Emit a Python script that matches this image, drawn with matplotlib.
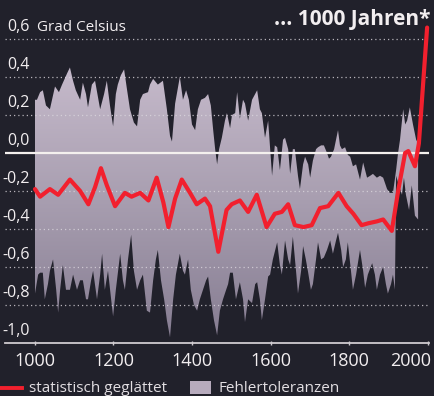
import numpy as np
import matplotlib
matplotlib.use("Agg")
import matplotlib.pyplot as plt
import matplotlib.transforms as mtransforms
from matplotlib.colors import LinearSegmentedColormap
from matplotlib.lines import Line2D
from matplotlib.patches import Rectangle

# upper edge of the error band (year, deg C)
up_years = [1000, 1005, 1013, 1020, 1028, 1038, 1051, 1061, 1069, 1082, 1089, 1097, 1104, 1115,
            1122, 1130, 1135, 1145, 1153, 1166, 1176, 1183, 1191, 1199, 1206, 1211, 1219, 1227,
            1234, 1242, 1252, 1260, 1268, 1275, 1288, 1293, 1301, 1313, 1326, 1336, 1344, 1349,
            1357, 1369, 1377, 1385, 1392, 1400, 1408, 1415, 1423, 1433, 1441, 1448, 1454, 1459,
            1464, 1469, 1476, 1484, 1489, 1497, 1502, 1510, 1515, 1522, 1530, 1535, 1543, 1553,
            1566, 1573, 1578, 1586, 1594, 1604, 1611, 1617, 1624, 1632, 1637, 1645, 1650, 1657,
            1662, 1670, 1675, 1683, 1688, 1696, 1701, 1708, 1716, 1721, 1729, 1736, 1744, 1749,
            1754, 1762, 1769, 1772, 1777, 1782, 1790, 1797, 1803, 1810, 1818, 1828, 1836, 1846,
            1854, 1861, 1871, 1879, 1887, 1897, 1904, 1912, 1920, 1925, 1930, 1938, 1943, 1948,
            1955, 1963, 1971, 1976]
up_vals = [0.28, 0.28, 0.32, 0.33, 0.25, 0.23, 0.35, 0.32, 0.36, 0.42, 0.45, 0.38, 0.33, 0.28,
           0.37, 0.31, 0.24, 0.36, 0.38, 0.23, 0.31, 0.38, 0.25, 0.14, 0.31, 0.36, 0.41, 0.44,
           0.34, 0.23, 0.16, 0.14, 0.28, 0.31, 0.32, 0.36, 0.39, 0.36, 0.38, 0.23, 0.09, 0.06,
           0.26, 0.40, 0.28, 0.33, 0.28, 0.15, 0.12, 0.23, 0.28, 0.29, 0.31, 0.25, 0.12, 0.02,
           -0.06, 0.02, 0.08, 0.17, 0.21, 0.13, 0.20, 0.21, 0.32, 0.18, 0.28, 0.26, 0.17, 0.28,
           0.33, 0.23, 0.21, 0.08, 0.17, -0.12, 0.04, 0.03, -0.09, 0.07, 0.08, 0.02, -0.11, 0.02,
           0.02, -0.12, -0.19, -0.06, -0.02, -0.06, -0.13, -0.04, 0.02, 0.03, 0.04, 0.04, 0.00, -0.03,
           -0.02, 0.02, 0.09, 0.12, 0.04, 0.02, 0.03, -0.01, -0.02, -0.07, -0.06, -0.14, -0.05, -0.13,
           -0.12, -0.11, -0.13, -0.12, -0.13, -0.19, -0.21, -0.21, -0.09, 0.00, 0.07, 0.23, 0.15, 0.17,
           0.24, 0.15, 0.07, 0.05]

# lower edge of the error band
low_years = [1000, 1008, 1013, 1020, 1025, 1033, 1038, 1046, 1054, 1059, 1064, 1071, 1079, 1089,
             1097, 1107, 1115, 1122, 1130, 1135, 1143, 1148, 1158, 1166, 1171, 1178, 1186, 1194,
             1199, 1206, 1217, 1224, 1229, 1237, 1245, 1252, 1260, 1268, 1275, 1285, 1293, 1301,
             1308, 1313, 1321, 1329, 1336, 1344, 1352, 1359, 1369, 1377, 1382, 1390, 1397, 1405,
             1413, 1420, 1428, 1436, 1441, 1448, 1456, 1464, 1471, 1479, 1487, 1492, 1497, 1504,
             1512, 1522, 1530, 1535, 1543, 1553, 1561, 1566, 1573, 1578, 1586, 1594, 1599, 1606,
             1617, 1624, 1629, 1637, 1645, 1650, 1657, 1665, 1670, 1678, 1683, 1690, 1696, 1703,
             1708, 1716, 1721, 1729, 1736, 1744, 1752, 1759, 1767, 1772, 1780, 1785, 1792, 1797,
             1805, 1810, 1818, 1828, 1836, 1841, 1848, 1859, 1866, 1871, 1879, 1887, 1894, 1899,
             1907, 1912, 1917, 1920, 1927, 1935, 1940, 1945, 1953, 1960, 1968, 1976]
low_vals = [-0.74, -0.64, -0.63, -0.63, -0.77, -0.69, -0.62, -0.56, -0.72, -0.84, -0.72, -0.59, -0.72, -0.72,
            -0.64, -0.72, -0.67, -0.67, -0.77, -0.77, -0.67, -0.62, -0.77, -0.64, -0.53, -0.72, -0.62, -0.77,
            -0.86, -0.72, -0.53, -0.67, -0.72, -0.56, -0.43, -0.62, -0.72, -0.67, -0.64, -0.83, -0.84, -0.67,
            -0.56, -0.51, -0.67, -0.77, -0.88, -0.97, -0.77, -0.64, -0.53, -0.62, -0.64, -0.56, -0.72, -0.80,
            -0.83, -0.77, -0.72, -0.67, -0.65, -0.77, -0.88, -0.96, -0.83, -0.77, -0.72, -0.69, -0.63, -0.63,
            -0.77, -0.68, -0.77, -0.89, -0.77, -0.79, -0.69, -0.68, -0.77, -0.88, -0.77, -0.65, -0.64, -0.56,
            -0.47, -0.59, -0.64, -0.46, -0.56, -0.59, -0.44, -0.62, -0.74, -0.62, -0.49, -0.56, -0.63, -0.72,
            -0.69, -0.56, -0.47, -0.56, -0.55, -0.51, -0.46, -0.53, -0.46, -0.42, -0.51, -0.60, -0.56, -0.47,
            -0.62, -0.72, -0.64, -0.51, -0.62, -0.71, -0.64, -0.58, -0.64, -0.72, -0.64, -0.60, -0.69, -0.74,
            -0.69, -0.64, -0.72, -0.12, -0.17, -0.22, -0.13, -0.22, -0.30, -0.17, -0.33, -0.35]

# smoothed series (red)
smooth_years = [1000, 1013, 1038, 1059, 1089, 1115, 1136, 1153, 1168, 1183, 1204, 1229, 1246, 1268,
                1289, 1310, 1327, 1340, 1357, 1374, 1395, 1412, 1433, 1446, 1467, 1488, 1501, 1522,
                1543, 1565, 1590, 1611, 1629, 1645, 1662, 1684, 1705, 1726, 1747, 1773, 1794, 1811,
                1832, 1849, 1871, 1887, 1909, 1926, 1943, 1951, 1968, 1978, 1999]
smooth_vals = [-0.19, -0.23, -0.19, -0.22, -0.14, -0.20, -0.27, -0.18, -0.08, -0.17, -0.28, -0.21, -0.23, -0.21,
               -0.25, -0.13, -0.26, -0.39, -0.24, -0.14, -0.21, -0.27, -0.24, -0.28, -0.52, -0.30, -0.27, -0.25,
               -0.31, -0.22, -0.39, -0.32, -0.31, -0.27, -0.38, -0.39, -0.38, -0.29, -0.28, -0.21, -0.28, -0.32,
               -0.38, -0.37, -0.36, -0.35, -0.41, -0.19, 0.00, 0.01, -0.07, 0.05, 0.66]

grid_vals = [0.6, 0.4, 0.2, -0.2, -0.4, -0.6, -0.8]
ylabel_vals = [0.6, 0.4, 0.2, 0.0, -0.2, -0.4, -0.6, -0.8, -1.0]
ylabel_text = ["0,6", "0,4", "0,2", "0,0", "-0,2", "-0,4", "-0,6", "-0,8", "-1,0"]
xtick_years = [1000, 1200, 1400, 1600, 1800, 2000]

BG = "#21212b"
RED = "#f2202e"
TXT = "#f2eef0"
plt.rcParams['font.family'] = ['Open Sans', 'DejaVu Sans']

fig = plt.figure(figsize=(4.34, 3.96), dpi=100)
fig.patch.set_facecolor(BG)
ax = fig.add_axes([5 / 434, 53 / 396, 424 / 434, 343 / 396])
ax.set_facecolor(BG)

# error band with a vertical gradient, clipped to the band outline
band_x = np.concatenate([up_years, low_years[::-1]])
band_y = np.concatenate([up_vals, low_vals[::-1]])
poly = ax.fill(band_x, band_y, facecolor="none", edgecolor="none")[0]
cmap = LinearSegmentedColormap.from_list("band", ["#857c91", "#a89eb0", "#c8bccd"])
grad = np.linspace(1, 0, 256).reshape(-1, 1)
im = ax.imshow(grad, extent=[990, 1990, -1.0, 0.5], aspect="auto", cmap=cmap, zorder=1)
im.set_clip_path(poly)

ax.set_xlim(923.6, 2003.8)
ax.set_ylim(-1.0, 0.805)
ax.axis("off")

for v in grid_vals:
    ax.axhline(v, color="#dcd8de", lw=0.9, ls=(0, (1, 2.4)), alpha=0.8, zorder=3)
ax.axhline(0.0, color="#f4f0ee", lw=1.6, zorder=4)
ax.axhline(-1.0, color="#cfcbd0", lw=1.3, zorder=4, clip_on=False)
ax.vlines(xtick_years, -1.013, -0.99, color="#cfcbd0", lw=1.0, clip_on=False, zorder=4)

ax.plot(smooth_years, smooth_vals, color=RED, lw=3.0, solid_joinstyle="round",
        solid_capstyle="round", zorder=5, clip_on=False)

trans = mtransforms.blended_transform_factory(ax.transAxes, ax.transData)
for v, t in zip(ylabel_vals, ylabel_text):
    ax.text(25 / 424, v + 0.02, t, transform=trans, ha="right", va="bottom",
            color=TXT, fontsize=11.5)
ax.text(32 / 424, 0.6 + 0.02, "Grad Celsius", transform=trans, ha="left", va="bottom",
        color=TXT, fontsize=11)

for yr in xtick_years:
    if yr == 2000:
        ax.text(2009, -1.095, str(yr), ha="right", va="center", color=TXT, fontsize=13)
    else:
        ax.text(yr, -1.095, str(yr), ha="center", va="center", color=TXT, fontsize=13)

fig.text(430 / 434, 1 - 20 / 396, "... 1000 Jahren*", ha="right", va="center",
         color=TXT, fontsize=15, fontweight="bold")

# legend row
fig.add_artist(Line2D([0, 22 / 434], [1 - 388 / 396] * 2, transform=fig.transFigure,
                      color=RED, lw=2.8))
fig.text(29 / 434, 1 - 388 / 396, "statistisch geglättet", ha="left", va="center",
         color="#e2dee2", fontsize=11)
fig.add_artist(Rectangle((190 / 434, 1 - 394 / 396), 21 / 434, 13 / 396,
                         transform=fig.transFigure, facecolor="#b7abbd", edgecolor="none"))
fig.text(219 / 434, 1 - 388 / 396, "Fehlertoleranzen", ha="left", va="center",
         color="#e2dee2", fontsize=11)

fig.savefig("out.png", dpi=100, facecolor=BG)
